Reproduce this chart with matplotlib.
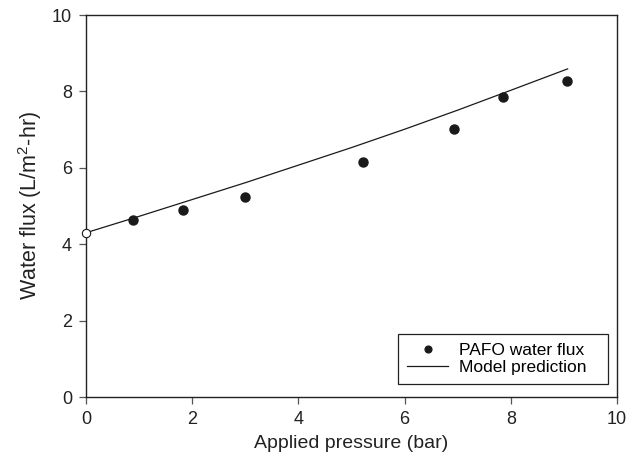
import matplotlib
matplotlib.use("Agg")
import matplotlib.pyplot as plt

plt.rcParams['font.family'] = ['Liberation Sans', 'DejaVu Sans']
plt.rcParams['mathtext.default'] = 'regular'

# measured PAFO water flux
pressure = [0.89, 1.82, 2.99, 5.22, 6.93, 7.86, 9.05]
flux = [4.64, 4.90, 5.23, 6.14, 7.02, 7.86, 8.27]

# model prediction curve
model_p = [0, 1, 2, 3, 4, 5, 6, 7, 8, 9.07]
model_flux = [4.30, 4.73, 5.17, 5.61, 6.07, 6.53, 7.01, 7.51, 8.03, 8.59]

# zero-pressure (FO) point
fo_p = [0]
fo_flux = [4.30]

fig = plt.figure(figsize=(6.39, 4.65), dpi=100)
ax = fig.add_axes([0.1346, 0.1462, 0.831, 0.8215])

ax.plot(pressure, flux, 'o', color='#1a1a1a', markersize=6.5, label='PAFO water flux', zorder=3)
ax.plot(model_p, model_flux, '-', color='#1a1a1a', lw=0.9, label='Model prediction', zorder=2)
ax.plot(fo_p, fo_flux, 'o', mfc='white', mec='#1a1a1a', mew=0.8, markersize=6, clip_on=False, zorder=4)

ax.set_xlim(0, 10)
ax.set_ylim(0, 10)
ax.set_xticks([0, 2, 4, 6, 8, 10])
ax.set_yticks([0, 2, 4, 6, 8, 10])
ax.tick_params(direction='out', length=5, width=0.9, color='#555555', labelsize=13, pad=5,
               labelcolor='#222222')
for s in ax.spines.values():
    s.set_linewidth(1.0)
    s.set_color('#222222')

ax.set_xlabel('Applied pressure (bar)', fontsize=14, color='#222222', labelpad=5)
ax.set_ylabel('Water flux (L/m$^2$-hr)', fontsize=15.5, color='#222222', labelpad=6)

leg = ax.legend(loc='lower left', bbox_to_anchor=(0.5876, 0.034, 0.3955, 0.12), mode='expand',
                borderaxespad=0, fancybox=False, edgecolor='#222222', framealpha=1, fontsize=12.5,
                markerscale=0.75, handlelength=2.4, handletextpad=0.6, borderpad=0.5,
                labelspacing=0.15)
leg.get_frame().set_linewidth(0.9)

fig.savefig('out.png', dpi=100)
